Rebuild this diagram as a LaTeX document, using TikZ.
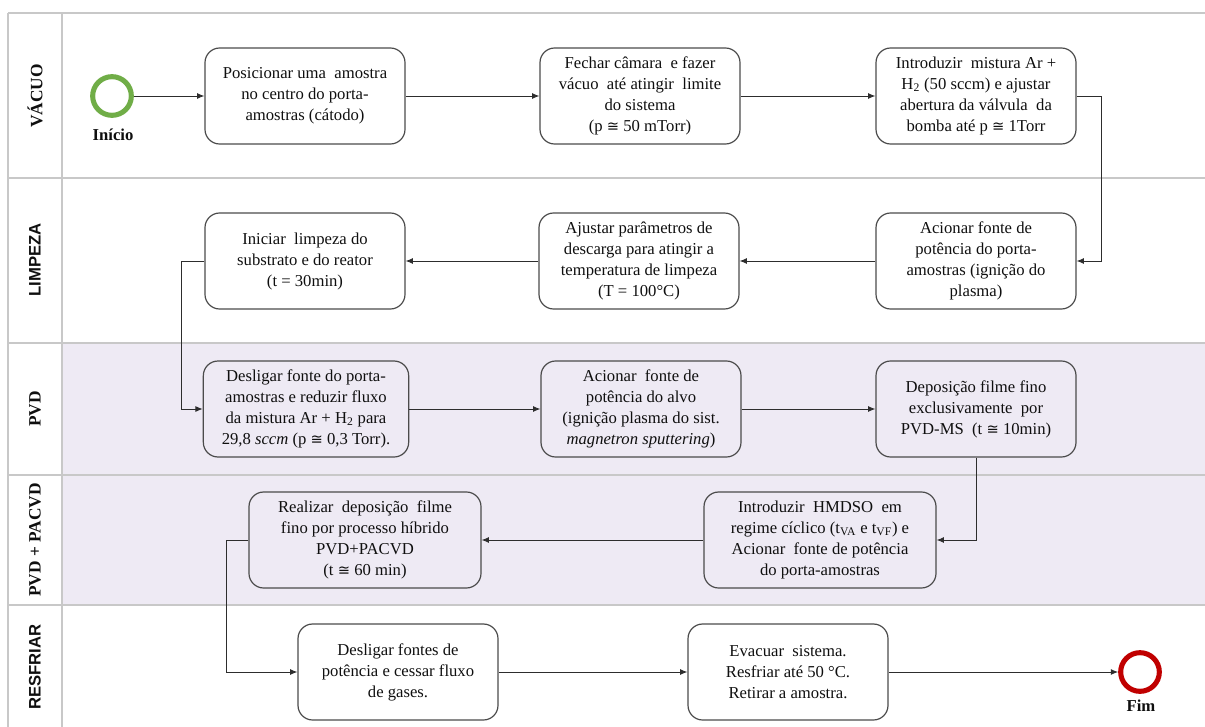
\documentclass[tikz,border=0pt]{standalone}
\usepackage{fontspec}
\setmainfont{Liberation Serif}
\newfontfamily\lanesans{Liberation Sans}
\newfontfamily\symfnt{DejaVu Sans}
\newcommand{\cng}{{\symfnt\fontsize{11}{13}\selectfont ≅}}
\usetikzlibrary{arrows.meta}
\definecolor{lanegray}{RGB}{200,200,200}
\definecolor{boxgray}{RGB}{75,75,75}
\definecolor{linegray}{RGB}{45,45,45}
\definecolor{lavender}{RGB}{238,234,244}
\definecolor{startgreen}{RGB}{112,173,71}
\definecolor{endred}{RGB}{192,0,0}
\definecolor{txt}{RGB}{15,15,15}
\tikzset{
  x=0.75pt, y=-0.75pt,
  box/.style={draw=boxgray, line width=0.9pt, rounded corners=11pt,
    minimum width=150pt, minimum height=72pt, align=center, inner sep=0pt,
    text=txt, font=\fontsize{12.5}{15.75}\selectfont},
  widebox/.style={box, minimum width=174pt},
  flow/.style={draw=linegray, line width=0.7pt, -{Latex[length=5.5pt,width=4.5pt]}},
  lanesep/.style={draw=lanegray, line width=1.1pt},
  serlabel/.style={rotate=90, font=\fontsize{13}{15}\selectfont\bfseries, text=txt},
  sanslabel/.style={rotate=90, font=\lanesans\fontsize{12.5}{15}\selectfont\bfseries, text=txt},
  eventlabel/.style={font=\fontsize{12.5}{14}\selectfont\bfseries, text=txt},
  startev/.style={circle, draw=startgreen, line width=3.8pt, minimum size=29pt, inner sep=0pt},
  endev/.style={circle, draw=endred, line width=3.8pt, minimum size=29pt, inner sep=0pt}
}
\begin{document}
\begin{tikzpicture}
\useasboundingbox (0,0) rectangle (1205,727);
% shaded lanes
\fill[lavender] (62,343) rectangle (1205,605);
% lane frame
\draw[lanesep] (8,13) -- (1205,13);
\draw[lanesep] (8,178) -- (1205,178);
\draw[lanesep] (8,343) -- (1205,343);
\draw[lanesep] (8,475) -- (1205,475);
\draw[lanesep] (8,605) -- (1205,605);
\draw[lanesep] (8,13) -- (8,727);
\draw[lanesep] (62,13) -- (62,727);
% lane labels
\node[serlabel] (l1) at (35,96) {VÁCUO};
\node[sanslabel] (l2) at (35,260) {LIMPEZA};
\node[serlabel] (l3) at (35,409) {PVD};
\node[serlabel] (l4) at (35,540) {PVD + PACVD};
\node[sanslabel] (l5) at (35,667) {RESFRIAR};
% events
\node[startev] (start) at (112,96) {};
\node[eventlabel] (startlbl) at (113,135) {Início};
\node[endev] (fim) at (1140,672) {};
\node[eventlabel] (fimlbl) at (1141,706) {Fim};
% boxes
\node[box] (b1) at (305,96) {Posicionar uma\ \ amostra\\no centro do porta-\\amostras (cátodo)};
\node[box] (b2) at (640,96) {Fechar câmara\ \ e fazer\\vácuo\ \ até atingir\ \ limite\\do sistema\\(p \cng{} 50 mTorr)};
\node[box] (b3) at (976,96) {Introduzir\ \ mistura Ar +\\H\textsubscript{2} (50 sccm) e ajustar\\abertura da válvula\ \ da\\bomba até p \cng{} 1Torr};
\node[box] (b4) at (976,261) {Acionar fonte de\\potência do porta-\\amostras (ignição do\\plasma)};
\node[box] (b5) at (639,261) {Ajustar parâmetros de\\descarga para atingir a\\temperatura de limpeza\\(T = 100°C)};
\node[box] (b6) at (305,261) {Iniciar\ \ limpeza do\\substrato e do reator\\(t = 30min)};
\node[box, minimum width=154pt] (b7) at (306,409) {Desligar fonte do porta-\\amostras e reduzir fluxo\\da mistura Ar + H\textsubscript{2} para\\29,8 \textit{sccm} (p \cng{} 0,3 Torr).};
\node[box] (b8) at (641,409) {Acionar\ \ fonte de\\potência do alvo\\(ignição plasma do sist.\\\textit{magnetron sputtering})};
\node[box] (b9) at (976,409) {Deposição filme fino\\exclusivamente\ \ por\\PVD-MS\ \ (t \cng{} 10min)};
\node[widebox] (b10) at (365,540) {Realizar\ \ deposição\ \ filme\\fino por processo híbrido\\PVD+PACVD\\(t \cng{} 60 min)};
\node[widebox] (b11) at (820,540) {Introduzir\ \ HMDSO\ \ em\\regime cíclico (t\textsubscript{VA} e t\textsubscript{VF}) e\\Acionar\ \ fonte de potência\\do porta-amostras};
\node[box] (b12) at (398,672) {Desligar fontes de\\potência e cessar fluxo\\de gases.};
\node[box] (b13) at (788,672) {Evacuar\ \ sistema.\\Resfriar até 50 °C.\\Retirar a amostra.};
% bend points
\coordinate (c1) at (1101,96);
\coordinate (c2) at (181,261);
\coordinate (c3) at (226,540);
% connectors
\draw[flow] (start) -- (b1);
\draw[flow] (b1) -- (b2);
\draw[flow] (b2) -- (b3);
\draw[flow] (b3.east) -- (c1) |- (b4.east);
\draw[flow] (b4) -- (b5);
\draw[flow] (b5) -- (b6);
\draw[flow] (b6.west) -- (c2) |- (b7.west);
\draw[flow] (b7) -- (b8);
\draw[flow] (b8) -- (b9);
\draw[flow] (b9.south) |- (b11.east);
\draw[flow] (b11) -- (b10);
\draw[flow] (b10.west) -- (c3) |- (b12.west);
\draw[flow] (b12) -- (b13);
\draw[flow] (b13) -- (fim);
\end{tikzpicture}
\end{document}
